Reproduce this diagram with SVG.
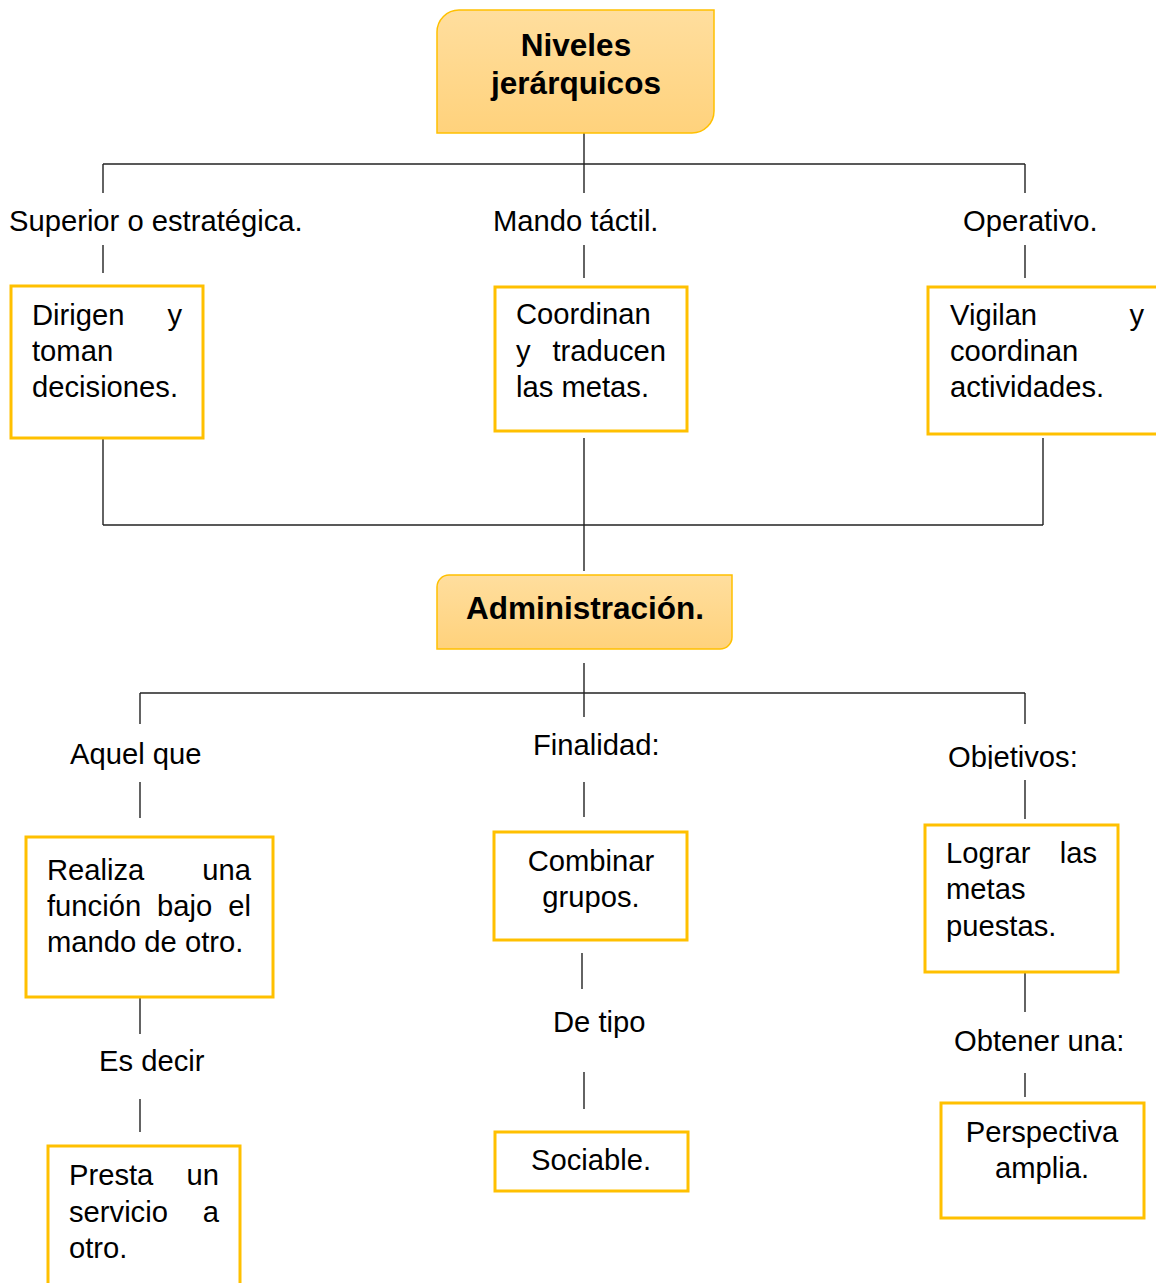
<svg xmlns="http://www.w3.org/2000/svg" width="1156" height="1283" viewBox="0 0 1156 1283">
<style>
text{font-family:"Liberation Sans",Arial,sans-serif;fill:#000}
.t{font-size:29.2px}
.b{font-size:31.5px;font-weight:bold;text-anchor:middle}
.m{text-anchor:middle}
.e{text-anchor:end}
.box{fill:#fff;stroke:#FFC000;stroke-width:3}
.hd{fill:url(#g);stroke:#FFC000;stroke-width:1.5}
.c line{stroke:#222;stroke-width:1.4}
</style>
<defs>
<linearGradient id="g" x1="0" y1="0" x2="0" y2="1">
<stop offset="0" stop-color="#FFDE9E"/>
<stop offset="1" stop-color="#FFD27C"/>
</linearGradient>
<clipPath id="clipObj"><rect x="900" y="730" width="256" height="39"/></clipPath>
</defs>
<rect width="1156" height="1283" fill="#fff"/>

<g id="connectors" class="c">
<line x1="584" y1="133" x2="584" y2="193"/>
<line x1="103" y1="164" x2="1025" y2="164"/>
<line x1="103" y1="164" x2="103" y2="193"/>
<line x1="1025" y1="164" x2="1025" y2="193"/>
<line x1="103" y1="245" x2="103" y2="273"/>
<line x1="584" y1="245" x2="584" y2="278"/>
<line x1="1025" y1="245" x2="1025" y2="278"/>
<line x1="103" y1="438" x2="103" y2="525"/>
<line x1="1043" y1="438" x2="1043" y2="525"/>
<line x1="103" y1="525" x2="1043" y2="525"/>
<line x1="584" y1="438" x2="584" y2="571"/>
<line x1="584" y1="663" x2="584" y2="717"/>
<line x1="140" y1="693" x2="1025" y2="693"/>
<line x1="140" y1="693" x2="140" y2="724"/>
<line x1="1025" y1="693" x2="1025" y2="724"/>
<line x1="140" y1="782" x2="140" y2="818"/>
<line x1="584" y1="782" x2="584" y2="817"/>
<line x1="1025" y1="780" x2="1025" y2="819"/>
<line x1="140" y1="997" x2="140" y2="1034"/>
<line x1="140" y1="1099" x2="140" y2="1132"/>
<line x1="582" y1="953" x2="582" y2="989"/>
<line x1="584" y1="1072" x2="584" y2="1109"/>
<line x1="1025" y1="972" x2="1025" y2="1012"/>
<line x1="1025" y1="1073" x2="1025" y2="1097"/>
</g>

<g id="n-niveles">
<path class="hd" d="M459,10 H714 V111 A22,22 0 0 1 692,133 H437 V32 A22,22 0 0 1 459,10 Z"/>
<text class="b" x="576" y="56">Niveles</text>
<text class="b" x="576" y="94">jerárquicos</text>
</g>

<g id="l-superior"><text class="t" x="9" y="231">Superior o estratégica.</text></g>
<g id="l-mando"><text class="t" x="493" y="231">Mando táctil.</text></g>
<g id="l-operativo"><text class="t" x="963" y="231">Operativo.</text></g>

<g id="n-dirigen">
<rect class="box" x="11" y="286" width="192" height="152"/>
<text class="t" x="32" y="325">Dirigen</text>
<text class="t e" x="182" y="325">y</text>
<text class="t" x="32" y="361">toman</text>
<text class="t" x="32" y="397">decisiones.</text>
</g>

<g id="n-coordinan">
<rect class="box" x="495" y="287" width="192" height="144"/>
<text class="t" x="516" y="324">Coordinan</text>
<text class="t" x="516" y="361">y</text>
<text class="t e" x="666" y="361">traducen</text>
<text class="t" x="516" y="397">las metas.</text>
</g>

<g id="n-vigilan">
<rect class="box" x="928" y="287" width="234" height="147"/>
<text class="t" x="950" y="325">Vigilan</text>
<text class="t e" x="1144" y="325">y</text>
<text class="t" x="950" y="361">coordinan</text>
<text class="t" x="950" y="397">actividades.</text>
</g>

<g id="n-administracion">
<path class="hd" d="M449,575 H732 V637 A12,12 0 0 1 720,649 H437 V587 A12,12 0 0 1 449,575 Z"/>
<text class="b" x="585" y="619">Administración.</text>
</g>

<g id="l-aquel"><text class="t" x="70" y="764">Aquel que</text></g>
<g id="l-finalidad"><text class="t" x="533" y="755">Finalidad:</text></g>
<g id="l-objetivos"><text class="t" x="948" y="767" clip-path="url(#clipObj)">Objetivos:</text></g>

<g id="n-realiza">
<rect class="box" x="26" y="837" width="247" height="160"/>
<text class="t" x="47" y="880">Realiza</text>
<text class="t e" x="251" y="880">una</text>
<text class="t" x="47" y="916">función</text>
<text class="t" x="157" y="916">bajo</text>
<text class="t e" x="251" y="916">el</text>
<text class="t" x="47" y="952">mando de otro.</text>
</g>

<g id="n-combinar">
<rect class="box" x="494" y="832" width="193" height="108"/>
<text class="t m" x="591" y="871">Combinar</text>
<text class="t m" x="591" y="907">grupos.</text>
</g>

<g id="n-lograr">
<rect class="box" x="925" y="825" width="193" height="147"/>
<text class="t" x="946" y="863">Lograr</text>
<text class="t e" x="1097" y="863">las</text>
<text class="t" x="946" y="899">metas</text>
<text class="t" x="946" y="936">puestas.</text>
</g>

<g id="l-esdecir"><text class="t" x="99" y="1071">Es decir</text></g>
<g id="l-detipo"><text class="t" x="553" y="1032">De tipo</text></g>
<g id="l-obtener"><text class="t" x="954" y="1051">Obtener una:</text></g>

<g id="n-presta">
<rect class="box" x="48" y="1146" width="192" height="150"/>
<text class="t" x="69" y="1185">Presta</text>
<text class="t e" x="219" y="1185">un</text>
<text class="t" x="69" y="1222">servicio</text>
<text class="t e" x="219" y="1222">a</text>
<text class="t" x="69" y="1258">otro.</text>
</g>

<g id="n-sociable">
<rect class="box" x="495" y="1132" width="193" height="59"/>
<text class="t m" x="591" y="1170">Sociable.</text>
</g>

<g id="n-perspectiva">
<rect class="box" x="941" y="1103" width="203" height="115"/>
<text class="t m" x="1042" y="1142">Perspectiva</text>
<text class="t m" x="1042" y="1178">amplia.</text>
</g>
</svg>
